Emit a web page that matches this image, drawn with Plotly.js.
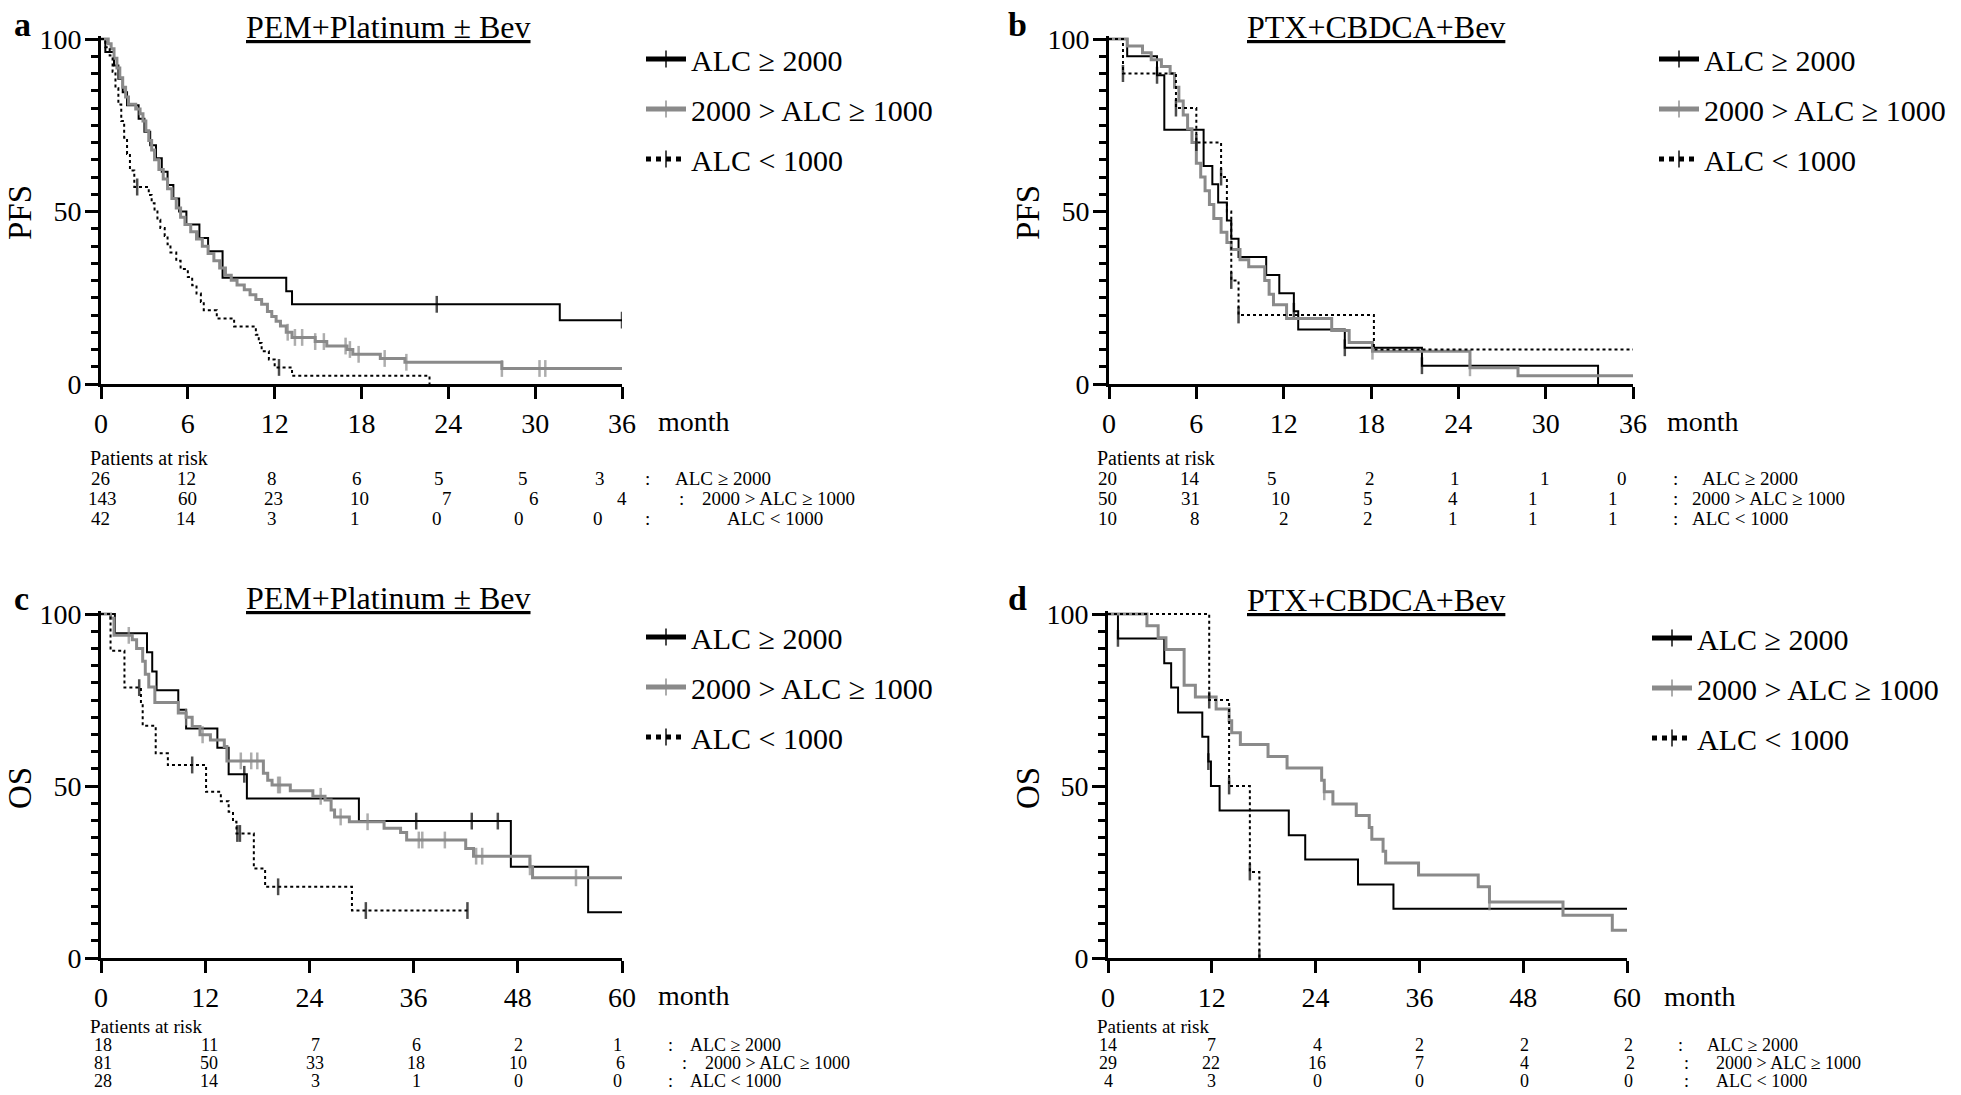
<!DOCTYPE html>
<html><head><meta charset="utf-8">
<script src="https://cdn.plot.ly/plotly-3.0.1.min.js"></script>
<style>html,body{margin:0;padding:0;background:#fff}#chart{width:1961px;height:1095px}</style>
</head><body><div id="chart"></div>
<script>
// ================= DATA =================
const groupNames = ['ALC ≥ 2000', '2000 > ALC ≥ 1000', 'ALC < 1000'];
const panelTitles = ['PEM+Platinum ± Bev', 'PTX+CBDCA+Bev', 'PEM+Platinum ± Bev', 'PTX+CBDCA+Bev'];
const panelLetters = ['a', 'b', 'c', 'd'];
const yLabels = ['PFS', 'PFS', 'OS', 'OS'];
const xUnit = 'month';
const riskHeader = 'Patients at risk';
const xTicksPFS = [0, 6, 12, 18, 24, 30, 36];
const xTicksOS = [0, 12, 24, 36, 48, 60];
const yTicks = [0, 50, 100];

// Panel a: PFS, PEM+Platinum ± Bev (time in months, survival %)
const aHighT = [0.3,0.9,1.2,1.5,1.8,2.6,3.0,3.4,3.8,4.2,4.6,5.0,5.4,5.9,6.8,7.4,8.4,12.8,13.2,31.7];
const aHighS = [96.2,92.3,88.5,84.6,80.8,76.9,73.1,69.2,65.4,61.5,57.7,53.8,50.0,46.2,42.3,38.5,30.8,26.9,23.1,18.5];
const aHighC = [23.2,36];
const aHighEnd = 36;
const aMidT = [0.5,0.7,0.9,1.1,1.3,1.5,1.7,1.9,2.4,2.7,2.9,3.1,3.3,3.5,3.7,4.0,4.3,4.6,4.9,5.2,5.5,5.8,6.2,6.6,7.0,7.4,7.8,8.2,8.6,9.0,9.4,9.9,10.3,10.7,11.1,11.5,11.8,12.1,12.4,12.8,13.2,14.8,15.6,17.0,17.4,19.3,21.0,27.7];
const aMidS = [98.6,97.2,94.4,91.6,88.8,86.0,83.2,81.1,79.7,78.3,76.2,73.4,70.6,67.8,65.0,62.2,59.4,56.6,53.8,51.0,48.3,46.2,44.1,42.0,39.9,37.8,35.7,33.6,31.5,30.1,28.7,27.3,25.9,24.5,23.1,21.0,19.6,18.2,16.8,15.0,13.5,12.3,11.0,10.0,8.6,7.4,6.3,4.5];
const aMidC = [12.9,13.4,13.9,14.8,15.4,16.9,17.2,17.8,19.6,21.1,27.7,30.3,30.7];
const aMidEnd = 36;
const aLowT = [0.3,0.6,0.8,1.0,1.2,1.4,1.6,1.8,2.0,2.3,3.3,3.5,3.7,3.9,4.1,4.4,4.6,4.8,5.2,5.5,6.0,6.3,6.6,6.9,7.1,8.0,9.2,10.7,10.9,11.1,11.6,12.0,13.2,22.7];
const aLowS = [97.6,95.2,90.5,85.7,81.0,76.2,71.4,66.7,61.9,57.1,54.8,52.4,50.0,47.6,45.2,42.9,40.5,38.1,35.7,33.3,31.0,28.6,26.2,23.8,21.4,19.0,16.7,14.3,11.9,9.5,7.1,4.8,2.4,0];
const aLowC = [2.5,12.3];
const aLowEnd = null;

// Panel b: PFS, PTX+CBDCA+Bev
const bHighT = [1.25,3.3,3.8,6.5,7.1,7.5,8.1,8.4,8.9,10.8,11.7,12.7,13.0,16.2,21.5,33.6];
const bHighS = [95,89.5,73.7,63.2,57.9,52.6,47.4,42.1,36.8,31.6,26.3,21.1,15.8,10.5,5.3,0];
const bHighC = [3.3,12.7,16.2,21.5];
const bHighEnd = null;
const bMidT = [1.25,2.3,2.9,3.6,4.2,4.5,4.8,5.1,5.4,5.7,6.0,6.3,6.6,6.9,7.2,7.7,8.1,8.4,9.0,9.6,10.7,11.0,11.3,12.2,15.3,16.5,18.1,24.8,28.1];
const bMidS = [98,96,94,92,90,86,82,78,74,70,64,60,56,52,48,44,41,39,36,34,30,26,23,19,15.5,12,9.5,4.7,2.4];
const bMidC = [18.1,24.8];
const bMidEnd = 36;
const bLowT = [0.96,4.6,6.0,7.7,8.1,8.4,8.9,18.2];
const bLowS = [90,80,70,60,50,30,20,10];
const bLowC = [0.96,4.6,6.0,7.7,8.4,8.9];
const bLowEnd = 36;

// Panel c: OS, PEM+Platinum ± Bev
const cHighT = [1.6,5.3,5.9,6.4,8.9,9.8,13.4,14.7,16.8,29.7,47.2,56.1];
const cHighS = [94.4,88.9,83.3,77.8,72.2,66.7,61.1,53.4,46.4,39.8,26.5,13.3];
const cHighC = [16.5,36.3,42.7,45.7];
const cHighEnd = 60;
const cMidT = [1.1,1.5,3.6,4.1,4.8,5.1,5.5,6.2,8.9,9.8,10.5,11.4,12.6,14.2,14.5,18.7,19.2,19.7,21.8,24.4,25.8,26.5,26.9,28.6,32.6,34.5,35.2,42.0,42.9,49.4,49.7];
const cMidS = [98.8,93.8,92.5,90.0,86.3,82.5,78.8,74.3,71.2,70.0,67.3,64.9,63.4,61.5,57.3,53.7,51.7,50.3,48.6,47.0,45.9,43.0,41.0,39.6,37.7,36.5,34.3,31.8,29.6,26.5,23.3];
const cMidC = [3.2,9.8,11.7,16.1,17.3,18.0,20.4,20.6,25.3,27.6,30.7,36.6,37.0,39.6,43.2,43.9,49.4,54.7];
const cMidEnd = 60;
const cLowT = [1.1,2.7,4.6,4.8,6.3,7.7,12.1,13.8,14.7,15.2,15.6,17.6,18.9,28.9];
const cLowS = [89.3,78.6,74.0,67.5,59.5,56.1,48.3,45.6,42.5,39.6,36.2,26.0,20.7,13.8];
const cLowC = [4.4,10.5,15.7,16.0,20.4,30.5,42.2];
const cLowEnd = null;

// Panel d: OS, PTX+CBDCA+Bev
const dHighT = [1.15,6.5,7.3,8.1,10.9,11.6,11.9,12.9,20.9,22.8,28.9,33.0];
const dHighS = [92.9,85.7,78.6,71.4,64.3,57.1,50.0,42.9,35.7,28.6,21.4,14.3];
const dHighC = [1.15,11.6];
const dHighEnd = 60;
const dMidT = [4.5,5.8,6.7,8.8,10.1,12.5,14.0,14.3,15.3,18.5,20.7,24.7,25.0,26.0,28.7,30.2,30.5,31.8,32.1,35.9,42.8,44.1,52.6,58.3];
const dMidS = [96.6,93.1,89.7,79.3,75.9,72.4,69.0,65.5,62.1,58.6,55.2,51.7,48.3,44.8,41.4,37.9,34.5,31.0,27.6,24.1,20.7,16.3,12.4,8.1];
const dMidC = [25.0,44.1];
const dMidEnd = 60;
const dLowT = [11.7,14.0,16.4,17.5];
const dLowS = [75,50,25,0];
const dLowC = [11.7,14.0,16.4,17.5];
const dLowEnd = null;

// Numbers at risk (rows: ALC>=2000, 2000>ALC>=1000, ALC<1000)
const aRisk = [[26,12,8,6,5,5,3],[143,60,23,10,7,6,4],[42,14,3,1,0,0,0]];
const bRisk = [[20,14,5,2,1,1,0],[50,31,10,5,4,1,1],[10,8,2,2,1,1,1]];
const cRisk = [[18,11,7,6,2,1],[81,50,33,18,10,6],[28,14,3,1,0,0]];
const dRisk = [[14,7,4,2,2,2],[29,22,16,7,4,2],[4,3,0,0,0,0]];

// ================= BUILD =================
const W = 1961, H = 1095;
const FONT = 'Liberation Serif';
const px = x => x / W;
const py = y => 1 - y / H;

const styles = [
  {color: '#000000', width: 2, dash: 'solid'},
  {color: '#8a8a8a', width: 3, dash: 'solid'},
  {color: '#000000', width: 2, dash: 'dot'}
];

function kmPoints(T, S, C, endT) {
  const pts = [{t: 0, k: 0, ev: true, s: 100}];
  T.forEach((t, i) => pts.push({t: t, k: 1, ev: true, s: S[i]}));
  C.forEach(t => pts.push({t: t, k: 2, cens: true}));
  if (endT !== null && endT !== undefined) pts.push({t: endT, k: 3});
  pts.sort((p, q) => p.t - q.t || p.k - q.k);
  let cur = 100;
  const x = [], y = [], sz = [];
  pts.forEach(p => {
    if (p.ev) cur = p.s;
    x.push(p.t); y.push(cur); sz.push(p.cens ? 12 : 0);
  });
  return {x, y, sz};
}

const panelSeries = [
  [[aHighT, aHighS, aHighC, aHighEnd], [aMidT, aMidS, aMidC, aMidEnd], [aLowT, aLowS, aLowC, aLowEnd]],
  [[bHighT, bHighS, bHighC, bHighEnd], [bMidT, bMidS, bMidC, bMidEnd], [bLowT, bLowS, bLowC, bLowEnd]],
  [[cHighT, cHighS, cHighC, cHighEnd], [cMidT, cMidS, cMidC, cMidEnd], [cLowT, cLowS, cLowC, cLowEnd]],
  [[dHighT, dHighS, dHighC, dHighEnd], [dMidT, dMidS, dMidC, dMidEnd], [dLowT, dLowS, dLowC, dLowEnd]]
];
const panelRisk = [aRisk, bRisk, cRisk, dRisk];

// geometry (pixels)
const geo = [
  {x0: 101, x1: 622, y100: 39, y0: 384, xmax: 36, ticks: xTicksPFS, letter: [12, 25], title: [388, 27], ylab: [20, 213], month: [694, 421],
   legend: [641, 33], riskY: [458, 478, 498, 519], riskHeadX: 88, riskFont: 19,
   cols: [[100,186,272,357,439,523,600],[102,187,273,359,447,534,622],[100,186,272,355,437,519,598]],
   colon: [647, 681, 647], lab: [673, 700, 725]},
  {x0: 1109, x1: 1633, y100: 39, y0: 384, xmax: 36, ticks: xTicksPFS, letter: [1006, 25], title: [1376, 27], ylab: [1028, 213], month: [1703, 421],
   legend: [1654, 33], riskY: [458, 478, 498, 519], riskHeadX: 1095, riskFont: 19,
   cols: [[1107,1190,1272,1370,1455,1545,1622],[1107,1190,1280,1368,1453,1533,1613],[1107,1195,1284,1368,1453,1533,1613]],
   colon: [1675, 1675, 1675], lab: [1700, 1690, 1690]},
  {x0: 101, x1: 622, y100: 614, y0: 958, xmax: 60, ticks: xTicksOS, letter: [12, 598], title: [388, 598], ylab: [20, 788], month: [694, 995],
   legend: [641, 611], riskY: [1026, 1045, 1063, 1081], riskHeadX: 88, riskFont: 18,
   cols: [[103,209,315,416,518,617],[103,209,315,416,518,620],[103,209,315,416,518,617]],
   colon: [670, 684, 670], lab: [688, 703, 688]},
  {x0: 1108, x1: 1627, y100: 614, y0: 958, xmax: 60, ticks: xTicksOS, letter: [1006, 598], title: [1376, 600], ylab: [1028, 788], month: [1700, 996],
   legend: [1647, 612], riskY: [1026, 1045, 1063, 1081], riskHeadX: 1095, riskFont: 18,
   cols: [[1108,1211,1317,1419,1524,1628],[1108,1211,1317,1419,1524,1630],[1108,1211,1317,1419,1524,1628]],
   colon: [1680, 1686, 1686], lab: [1705, 1714, 1714]}
];

const traces = [];
const layout = {
  width: W, height: H, margin: {l: 0, r: 0, t: 0, b: 0},
  paper_bgcolor: '#fff', plot_bgcolor: 'rgba(0,0,0,0)',
  font: {family: FONT, color: '#000'},
  showlegend: true, annotations: []
};

geo.forEach((g, p) => {
  const n = p === 0 ? '' : String(p + 1);
  const xa = 'x' + n, ya = 'y' + n;
  const legId = 'legend' + n;
  const yTopPx = g.y100 - (g.y0 - g.y100) / 100;
  layout['xaxis' + n] = {
    domain: [px(g.x0), px(g.x1)], range: [0, g.xmax], anchor: ya,
    showline: true, linewidth: 3, linecolor: '#000', mirror: false,
    ticks: 'outside', ticklen: 12, tickwidth: 3, tickcolor: '#000',
    tickmode: 'array', tickvals: g.ticks, ticktext: g.ticks.map(String),
    tickfont: {family: FONT, size: 28, color: '#000'},
    showgrid: false, zeroline: false, fixedrange: true
  };
  layout['yaxis' + n] = {
    domain: [py(g.y0), py(yTopPx)], range: [0, 101], anchor: xa,
    showline: true, linewidth: 3, linecolor: '#000',
    ticks: 'outside', ticklen: 13, tickwidth: 3, tickcolor: '#000',
    tickmode: 'array', tickvals: yTicks, ticktext: yTicks.map(String),
    minor: {dtick: 5, tick0: 0, ticks: 'outside', ticklen: 7, tickwidth: 3, tickcolor: '#000', showgrid: false},
    tickfont: {family: FONT, size: 28, color: '#000'}, ticklabelstandoff: -2,
    showgrid: false, zeroline: false, fixedrange: true
  };
  layout[legId] = {
    x: px(g.legend[0]), xanchor: 'left', y: py(g.legend[1]), yanchor: 'top',
    font: {family: FONT, size: 30, color: '#000'}, bgcolor: 'rgba(0,0,0,0)',
    itemwidth: 40, itemsizing: 'constant', tracegroupgap: 8, traceorder: 'grouped'
  };
  panelSeries[p].forEach((s, gi) => {
    const k = kmPoints(s[0], s[1], s[2], s[3]);
    const st = styles[gi];
    traces.push({
      type: 'scatter', mode: 'lines+markers', x: k.x, y: k.y, xaxis: xa, yaxis: ya,
      name: groupNames[gi], legend: legId, legendgroup: 'p' + p + 'g' + gi,
      line: {shape: 'hv', color: st.color, width: st.width, dash: st.dash},
      marker: {symbol: 'line-ns-open', size: k.sz, color: st.color, line: {color: st.color, width: 2.5}},
      hoverinfo: 'skip'
    });
  });
  const A = layout.annotations;
  const rf = g.riskFont;
  A.push({xref: 'paper', yref: 'paper', x: px(g.letter[0]), y: py(g.letter[1]), xanchor: 'left', yanchor: 'middle',
    text: '<b>' + panelLetters[p] + '</b>', showarrow: false, font: {family: FONT, size: 34, color: '#000'}});
  A.push({xref: 'paper', yref: 'paper', x: px(g.title[0]), y: py(g.title[1]), xanchor: 'center', yanchor: 'middle',
    text: '<u>' + panelTitles[p] + '</u>', showarrow: false, font: {family: FONT, size: 32, color: '#000'}});
  A.push({xref: 'paper', yref: 'paper', x: px(g.ylab[0]), y: py(g.ylab[1]), xanchor: 'center', yanchor: 'middle',
    text: yLabels[p], textangle: -90, showarrow: false, font: {family: FONT, size: 33, color: '#000'}});
  A.push({xref: 'paper', yref: 'paper', x: px(g.month[0]), y: py(g.month[1]), xanchor: 'center', yanchor: 'middle',
    text: xUnit, showarrow: false, font: {family: FONT, size: 28, color: '#000'}});
  A.push({xref: 'paper', yref: 'paper', x: px(g.riskHeadX), y: py(g.riskY[0]), xanchor: 'left', yanchor: 'middle',
    text: riskHeader, showarrow: false, font: {family: FONT, size: rf + 1, color: '#000'}});
  panelRisk[p].forEach((row, r) => {
    const yy = py(g.riskY[r + 1]);
    row.forEach((v, c) => {
      A.push({xref: 'paper', yref: 'paper', x: px(g.cols[r][c]), y: yy, xanchor: 'center', yanchor: 'middle',
        text: String(v), showarrow: false, font: {family: FONT, size: rf, color: '#000'}});
    });
    A.push({xref: 'paper', yref: 'paper', x: px(g.colon[r]), y: yy, xanchor: 'center', yanchor: 'middle',
      text: ':', showarrow: false, font: {family: FONT, size: rf, color: '#000'}});
    A.push({xref: 'paper', yref: 'paper', x: px(g.lab[r]), y: yy, xanchor: 'left', yanchor: 'middle',
      text: groupNames[r], showarrow: false, font: {family: FONT, size: rf, color: '#000'}});
  });
});

Plotly.newPlot('chart', traces, layout, {staticPlot: true, displayModeBar: false});
</script>
</body></html>
